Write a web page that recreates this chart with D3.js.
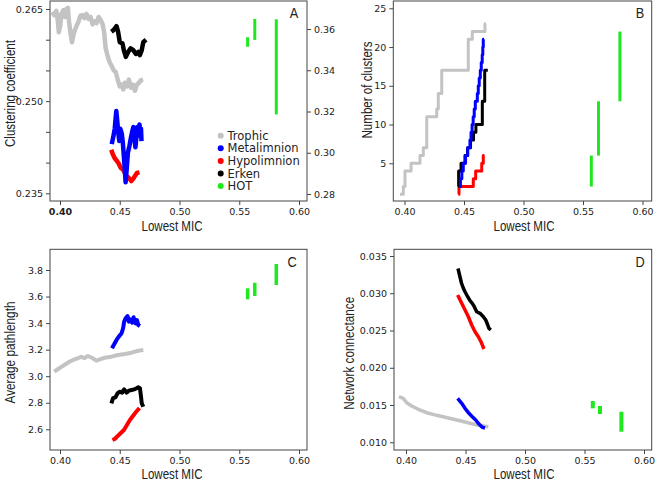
<!DOCTYPE html>
<html><head><meta charset="utf-8">
<script src="https://cdn.jsdelivr.net/npm/d3@7"></script>
<style>
body{margin:0;background:#fff}
svg{display:block}
.tick text{font-family:"DejaVu Sans",sans-serif;font-size:9.5px;fill:#222}
.ttl{font-family:"Liberation Sans",Arial,sans-serif;font-size:15px;fill:#222}
.leg{font-family:"DejaVu Sans",sans-serif;font-size:11.5px;fill:#222}
</style></head><body>
<svg id="c" width="660" height="481"></svg>
<script>
// ---------- data ----------
const micTicks = [0.40, 0.45, 0.50, 0.55, 0.60];
const seriesNames = ["Trophic", "Metalimnion", "Hypolimnion", "Erken", "HOT"];
const hotMIC = [0.557, 0.563, 0.581];

// Panel A: clustering coefficient (HOT on right axis)
const aTrophic = [[0.3935,0.2645],[0.3952,0.2640],[0.3969,0.2647],[0.3981,0.2632],[0.3990,0.2612],[0.4003,0.2624],[0.4011,0.2642],[0.4028,0.2648],[0.4041,0.2637],[0.4053,0.2650],[0.4066,0.2652],[0.4074,0.2632],[0.4087,0.2612],[0.4100,0.2596],[0.4112,0.2607],[0.4125,0.2616],[0.4138,0.2622],[0.4154,0.2629],[0.4171,0.2639],[0.4188,0.2640],[0.4205,0.2635],[0.4222,0.2642],[0.4239,0.2634],[0.4256,0.2637],[0.4273,0.2625],[0.4289,0.2630],[0.4306,0.2627],[0.4323,0.2637],[0.4340,0.2632],[0.4357,0.2625],[0.4370,0.2611],[0.4382,0.2586],[0.4399,0.2573],[0.4416,0.2563],[0.4433,0.2557],[0.4450,0.2550],[0.4467,0.2547],[0.4484,0.2534],[0.4500,0.2524],[0.4517,0.2527],[0.4530,0.2519],[0.4543,0.2530],[0.4559,0.2524],[0.4576,0.2535],[0.4593,0.2522],[0.4610,0.2527],[0.4627,0.2517],[0.4644,0.2527],[0.4661,0.2530],[0.4678,0.2534],[0.4695,0.2535]];
const aMeta = [[0.4433,0.2430],[0.4446,0.2442],[0.4458,0.2455],[0.4471,0.2484],[0.4479,0.2468],[0.4488,0.2448],[0.4496,0.2435],[0.4505,0.2455],[0.4517,0.2447],[0.4526,0.2432],[0.4534,0.2411],[0.4543,0.2386],[0.4549,0.2368],[0.4558,0.2389],[0.4568,0.2416],[0.4581,0.2427],[0.4593,0.2440],[0.4606,0.2452],[0.4614,0.2458],[0.4623,0.2439],[0.4631,0.2425],[0.4640,0.2443],[0.4648,0.2458],[0.4657,0.2452],[0.4665,0.2462],[0.4673,0.2443],[0.4678,0.2455],[0.4682,0.2435]];
const aHypo = [[0.4429,0.2421],[0.4441,0.2414],[0.4458,0.2407],[0.4475,0.2403],[0.4492,0.2398],[0.4509,0.2391],[0.4526,0.2389],[0.4543,0.2383],[0.4559,0.2378],[0.4576,0.2375],[0.4597,0.2370],[0.4610,0.2373],[0.4627,0.2378],[0.4644,0.2383],[0.4665,0.2384]];
const aErken = [[0.4430,0.2613],[0.4450,0.2616],[0.4473,0.2622],[0.4486,0.2613],[0.4500,0.2596],[0.4523,0.2594],[0.4534,0.2583],[0.4551,0.2572],[0.4570,0.2580],[0.4591,0.2586],[0.4613,0.2583],[0.4635,0.2577],[0.4655,0.2580],[0.4669,0.2575],[0.4684,0.2583],[0.4697,0.2596],[0.4720,0.2600]];
const aHOT = [[0.3514,0.3560],[0.3547,0.3649],[0.3186,0.3647]];
const aLeftTicks = [0.235,0.240,0.245,0.250,0.255,0.260,0.265];
const aLeftLabels = [0.235,0.250,0.265];
const aRightTicks = [0.28,0.30,0.32,0.34,0.36];

// Panel B: number of clusters (step lines)
const bTrophic = [[0.3962,1],[0.3990,2],[0.4004,4],[0.4055,5],[0.4130,6],[0.4158,7],[0.4187,11],[0.4271,12],[0.4284,14],[0.4313,17],[0.4536,21],[0.4570,22],[0.4676,23],[0.4685,23]];
const bMeta = [[0.4458,2],[0.4470,3],[0.4482,4],[0.4494,5],[0.4513,6],[0.4531,7],[0.4550,8],[0.4559,9],[0.4568,10],[0.4577,11],[0.4586,12],[0.4595,13],[0.4612,14],[0.4620,15],[0.4628,16],[0.4637,17],[0.4645,18],[0.4653,19],[0.4658,20],[0.4662,21],[0.4668,21]];
const bHypo = [[0.4452,1],[0.4458,2],[0.4578,3],[0.4598,4],[0.4649,5],[0.4662,6],[0.4672,6]];
const bErken = [[0.4452,2],[0.4455,4],[0.4475,5],[0.4508,6],[0.4530,7],[0.4555,8],[0.4580,9],[0.4600,10],[0.4654,13],[0.4674,17],[0.4700,17]];
const bHOT = [[2,6],[6,13],[13,22]];
const bTicks = [5,10,15,20,25];

// Panel C: average pathlength
const cTrophic = [[0.3952,3.034],[0.3994,3.060],[0.4036,3.084],[0.4078,3.109],[0.4121,3.127],[0.4149,3.135],[0.4177,3.147],[0.4205,3.135],[0.4230,3.152],[0.4247,3.147],[0.4275,3.135],[0.4304,3.117],[0.4332,3.127],[0.4374,3.139],[0.4430,3.147],[0.4486,3.160],[0.4543,3.167],[0.4599,3.177],[0.4655,3.192],[0.4697,3.197]];
const cMeta = [[0.4435,3.210],[0.4458,3.248],[0.4473,3.273],[0.4492,3.298],[0.4515,3.323],[0.4528,3.361],[0.4537,3.411],[0.4549,3.436],[0.4565,3.453],[0.4576,3.411],[0.4587,3.429],[0.4604,3.403],[0.4616,3.444],[0.4633,3.398],[0.4644,3.423],[0.4655,3.386],[0.4669,3.378]];
const cHypo = [[0.4439,2.519],[0.4458,2.527],[0.4484,2.550],[0.4509,2.572],[0.4535,2.595],[0.4560,2.632],[0.4585,2.670],[0.4610,2.700],[0.4636,2.730],[0.4665,2.760]];
const cErken = [[0.4430,2.796],[0.4444,2.834],[0.4464,2.841],[0.4481,2.871],[0.4500,2.883],[0.4520,2.876],[0.4537,2.901],[0.4557,2.876],[0.4576,2.891],[0.4599,2.896],[0.4621,2.901],[0.4641,2.909],[0.4655,2.916],[0.4669,2.909],[0.4678,2.846],[0.4684,2.796],[0.4697,2.770]];
const cHOT = [[3.579,3.662],[3.604,3.704],[3.687,3.845]];
const cTicks = [2.6,2.8,3.0,3.2,3.4,3.6,3.8];

// Panel D: network connectance
const dTrophic = [[0.3941,0.01612],[0.3977,0.01590],[0.4006,0.01531],[0.4048,0.01487],[0.4103,0.01443],[0.4174,0.01397],[0.4258,0.01362],[0.4355,0.01326],[0.4454,0.01290],[0.4538,0.01255],[0.4608,0.01228],[0.4692,0.01209]];
const dMeta = [[0.4434,0.01590],[0.4468,0.01523],[0.4496,0.01456],[0.4529,0.01389],[0.4557,0.01343],[0.4586,0.01299],[0.4613,0.01245],[0.4641,0.01201],[0.4664,0.01192]];
const dHypo = [[0.4434,0.02977],[0.4468,0.02865],[0.4496,0.02775],[0.4524,0.02685],[0.4552,0.02574],[0.4580,0.02484],[0.4608,0.02417],[0.4630,0.02350],[0.4655,0.02252]];
const dErken = [[0.4437,0.03332],[0.4450,0.03245],[0.4466,0.03138],[0.4482,0.03067],[0.4496,0.03021],[0.4518,0.02954],[0.4538,0.02900],[0.4557,0.02865],[0.4574,0.02820],[0.4594,0.02752],[0.4622,0.02731],[0.4650,0.02685],[0.4670,0.02641],[0.4687,0.02574],[0.4697,0.02530],[0.4712,0.02507]];
const dHOT = [[0.01456,0.01554],[0.01380,0.01487],[0.01142,0.01410]];
const dTicks = [0.010,0.015,0.020,0.025,0.030,0.035];

// ---------- styles ----------
const COL = {Trophic:"#c3c3c3", Metalimnion:"#0000ff", Hypolimnion:"#ff0000", Erken:"#000000", HOT:"#1ee81e"};
const FRAME = "#444";

const svg = d3.select("#c");

function drawPanel(p) {
  const g = svg.append("g");
  const x = d3.scaleLinear().domain([0.40, 0.60]).range(p.xr);
  const y = d3.scaleLinear().domain(p.yd).range(p.yr);

  const xa = g.append("g").attr("transform", `translate(0,${p.bottom})`)
    .call(d3.axisBottom(x).tickValues(micTicks).tickFormat(d3.format(".2f")).tickSize(4).tickPadding(3));
  xa.select(".domain").remove();
  xa.selectAll(".tick line").attr("stroke", FRAME);
  if (p.boldFirst) xa.selectAll(".tick text").filter((d,i)=>i===0).attr("font-weight","bold");

  const ya = g.append("g").attr("transform", `translate(${p.left},0)`)
    .call(d3.axisLeft(y).tickValues(p.yTicks).tickFormat(p.yFmt).tickSize(4).tickPadding(3));
  ya.select(".domain").remove();
  ya.selectAll(".tick line").attr("stroke", FRAME);

  let yR = null;
  if (p.yRight) {
    yR = d3.scaleLinear().domain(p.yRight.d).range(p.yRight.r);
    const ra = g.append("g").attr("transform", `translate(${p.right},0)`)
      .call(d3.axisRight(yR).tickValues(p.yRight.ticks).tickFormat(d3.format(".2f")).tickSize(4).tickPadding(3));
    ra.select(".domain").remove();
    ra.selectAll(".tick line").attr("stroke", FRAME);
  }

  g.append("rect").attr("x", p.left).attr("y", p.top)
    .attr("width", p.right - p.left).attr("height", p.bottom - p.top)
    .attr("fill", "none").attr("stroke", FRAME).attr("stroke-width", 1);

  const line = d3.line().x(d => x(d[0])).y(d => y(d[1]));
  if (p.step) line.curve(d3.curveStepAfter);

  p.series.forEach(([name, data]) => {
    g.append("path").datum(data).attr("d", line)
      .attr("fill", "none").attr("stroke", COL[name])
      .attr("stroke-width", p.lw).attr("stroke-linejoin", "round").attr("stroke-linecap", "butt");
  });

  const hy = yR || y;
  g.selectAll(null).data(p.hot).enter().append("line")
    .attr("x1", (d,i) => x(hotMIC[i])).attr("x2", (d,i) => x(hotMIC[i]))
    .attr("y1", d => hy(d[0])).attr("y2", d => hy(d[1]))
    .attr("stroke", COL.HOT).attr("stroke-width", p.hw);

  g.append("text").attr("class", "ttl").attr("x", p.xTitleX).attr("y", p.xTitleY)
    .attr("text-anchor", "middle").attr("textLength", 61).attr("lengthAdjust", "spacingAndGlyphs")
    .text("Lowest MIC");
  g.append("text").attr("class", "ttl")
    .attr("transform", `translate(${p.yTitleX},${p.yTitleY}) rotate(-90)`)
    .attr("text-anchor", "middle").attr("dominant-baseline", "central")
    .attr("textLength", p.yTitleLen).attr("lengthAdjust", "spacingAndGlyphs").text(p.yTitle);
  g.append("text").attr("class", "ttl").attr("x", p.letter[1]).attr("y", p.letter[2])
    .attr("text-anchor", "middle").attr("transform", `translate(${p.letter[1]},0) scale(0.85,1) translate(${-p.letter[1]},0)`)
    .text(p.letter[0]);

  return {g, x, y};
}

const A = drawPanel({
  left: 50, right: 307, top: 1, bottom: 201, xr: [60, 299],
  yd: [0.235, 0.265], yr: [193.3, 9], yTicks: aLeftTicks,
  yFmt: d => aLeftLabels.some(v => Math.abs(v - d) < 1e-9) ? d3.format(".3f")(d) : "",
  yRight: {d: [0.28, 0.36], r: [194, 29], ticks: aRightTicks},
  boldFirst: true, lw: 4.5, hw: 3,
  series: [["Trophic", aTrophic], ["Hypolimnion", aHypo], ["Erken", aErken], ["Metalimnion", aMeta]],
  hot: aHOT, xTitleX: 172, xTitleY: 231, yTitleX: 9, yTitleY: 93.5, yTitleLen: 107, yTitle: "Clustering coefficient",
  letter: ["A", 294, 18]
});

const legY0 = 135.7, legDy = 12.6;
seriesNames.forEach((n, i) => {
  A.g.append("circle").attr("cx", 220.7).attr("cy", legY0 + i * legDy).attr("r", 3).attr("fill", COL[n]);
  A.g.append("text").attr("class", "leg").attr("x", 227.5).attr("y", legY0 + i * legDy)
    .attr("dominant-baseline", "central").text(n);
});

drawPanel({
  left: 393.3, right: 651.7, top: 1, bottom: 201, xr: [404.5, 642.5],
  yd: [5, 25], yr: [163.3, 8.3], yTicks: bTicks, yFmt: d3.format("d"),
  step: true, lw: 3, hw: 3,
  series: [["Trophic", bTrophic], ["Hypolimnion", bHypo], ["Erken", bErken], ["Metalimnion", bMeta]],
  hot: bHOT, xTitleX: 524, xTitleY: 231, yTitleX: 366, yTitleY: 90, yTitleLen: 97, yTitle: "Number of clusters",
  letter: ["B", 640, 18]
});

drawPanel({
  left: 50, right: 307, top: 249.3, bottom: 450, xr: [60, 299],
  yd: [2.6, 3.8], yr: [429.3, 270], yTicks: cTicks, yFmt: d3.format(".1f"),
  lw: 4, hw: 3.5,
  series: [["Trophic", cTrophic], ["Hypolimnion", cHypo], ["Erken", cErken], ["Metalimnion", cMeta]],
  hot: cHOT, xTitleX: 172, xTitleY: 479, yTitleX: 9, yTitleY: 352.5, yTitleLen: 102, yTitle: "Average pathlength",
  letter: ["C", 292, 267]
});

drawPanel({
  left: 394, right: 651.7, top: 249.3, bottom: 450, xr: [406, 644],
  yd: [0.010, 0.035], yr: [442.3, 256], yTicks: dTicks, yFmt: d3.format(".3f"),
  lw: 3.5, hw: 4,
  series: [["Trophic", dTrophic], ["Hypolimnion", dHypo], ["Erken", dErken], ["Metalimnion", dMeta]],
  hot: dHOT, xTitleX: 524, xTitleY: 479, yTitleX: 348, yTitleY: 353.3, yTitleLen: 113, yTitle: "Network connectance",
  letter: ["D", 640, 267]
});
</script>
</body></html>
